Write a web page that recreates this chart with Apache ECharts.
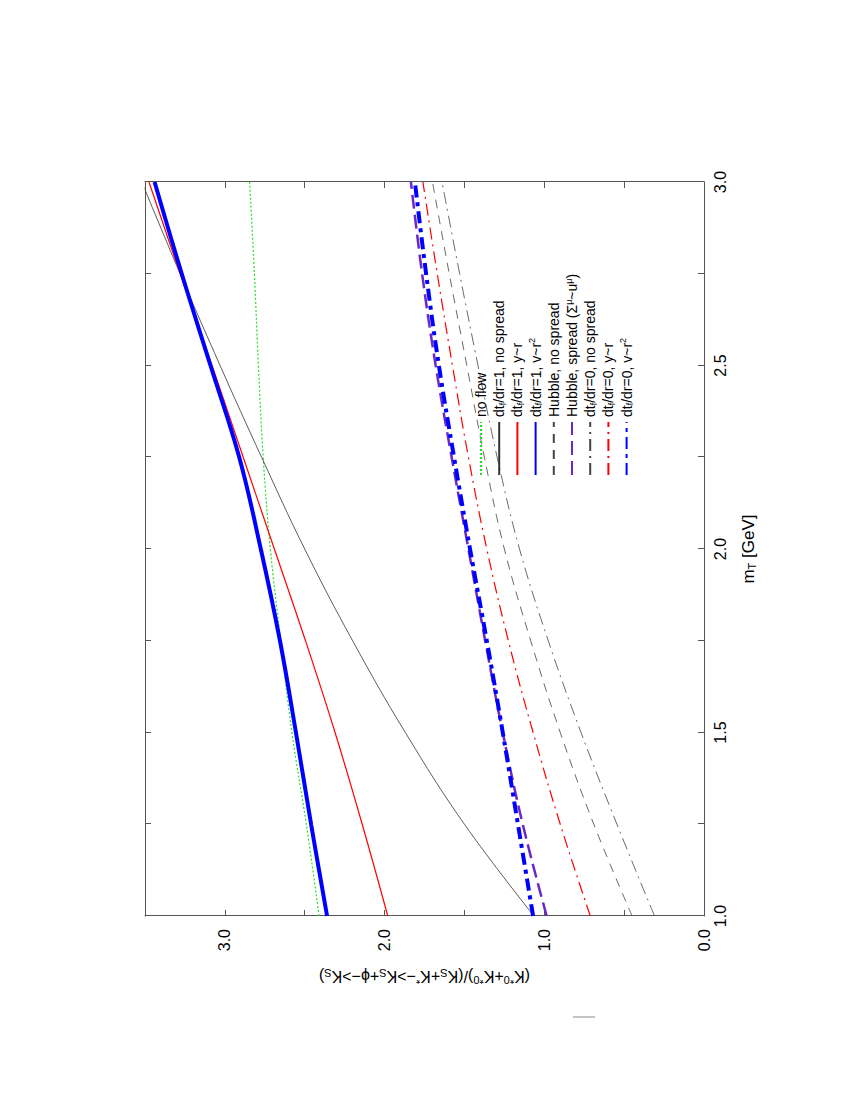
<!DOCTYPE html>
<html>
<head>
<meta charset="utf-8">
<script src="https://cdn.jsdelivr.net/npm/echarts@6/dist/echarts.min.js"></script>
<style>
  html, body { margin: 0; padding: 0; background: #fff; overflow: hidden; width: 850px; height: 1100px; }
  #chart { position: absolute; left: 0; top: 0; width: 1100px; height: 850px;
           transform-origin: 0 0; transform: translate(0px, 1100px) rotate(-90deg); }
</style>
</head>
<body>
<div id="chart"></div>
<script>
// m_T [GeV] sample points
const mT = [1.0, 1.25, 1.5, 1.75, 2.0, 2.25, 2.5, 2.75, 3.0];
// ratio values
const noFlow         = [2.41, 2.49, 2.58, 2.65, 2.715, 2.76, 2.79, 2.815, 2.845];
const dt1NoSpread    = [1.065, 1.50, 1.87, 2.20, 2.50, 2.77, 3.03, 3.28, 3.52];
const dt1Yr          = [1.98, 2.14, 2.31, 2.495, 2.69, 2.885, 3.08, 3.28, 3.475];
const dt1Vr2         = [2.36, 2.46, 2.555, 2.655, 2.775, 2.91, 3.09, 3.27, 3.44];
const hubbleNoSpread = [0.45, 0.69, 0.90, 1.085, 1.25, 1.375, 1.485, 1.595, 1.70];
const hubbleSpread   = [0.985, 1.135, 1.26, 1.37, 1.475, 1.58, 1.68, 1.765, 1.835];
const dt0NoSpread    = [0.31, 0.545, 0.77, 0.975, 1.155, 1.295, 1.415, 1.53, 1.64];
const dt0Yr          = [0.712, 0.90, 1.07, 1.225, 1.36, 1.475, 1.575, 1.67, 1.76];
const dt0Vr2         = [1.07, 1.165, 1.26, 1.36, 1.465, 1.565, 1.66, 1.74, 1.81];

const seriesNames = [
  'no flow', 'dtf/dr=1, no spread', 'dtf/dr=1, y~r', 'dtf/dr=1, v~r2',
  'Hubble, no spread', 'Hubble, spread', 'dtf/dr=0, no spread', 'dtf/dr=0, y~r', 'dtf/dr=0, v~r2'
];
const legendLabels = [
  'no flow',
  'dt{sub|f}/dr=1, no spread',
  'dt{sub|f}/dr=1, y~r',
  'dt{sub|f}/dr=1, v~r{sup|2}',
  'Hubble, no spread',
  'Hubble, spread (Σ{sup|μ}~u{sup|μ})',
  'dt{sub|f}/dr=0, no spread',
  'dt{sub|f}/dr=0, y~r',
  'dt{sub|f}/dr=0, v~r{sup|2}'
];
const seriesValues = [noFlow, dt1NoSpread, dt1Yr, dt1Vr2, hubbleNoSpread, hubbleSpread, dt0NoSpread, dt0Yr, dt0Vr2];
const seriesColors = ['#22e022', '#333333', '#ff0000', '#0000ff', '#444444', '#6a28c8', '#444444', '#ff0000', '#0000ff'];
const seriesWidths = [1.2, 0.8, 1.2, 4, 0.8, 2.5, 0.8, 1.2, 4];
const seriesDashes = [[2, 2], 'solid', 'solid', 'solid', [9, 7], [14, 6], [12, 5, 2, 5], [12, 5, 2, 5], [12, 5, 4, 5]];

const xTicks = { min: 1.0, max: 3.0, interval: 0.25 };
const yTicks = { min: 0, max: 3.5, interval: 0.5 };

const FONT = 'Liberation Sans, Arial, Helvetica, sans-serif';
const frameColor = '#555';

const chart = echarts.init(document.getElementById('chart'), null, { renderer: 'svg' });

function xFmt(v) { return Math.abs(v * 2 - Math.round(v * 2)) < 1e-9 ? v.toFixed(1) : ''; }
function yFmt(v) { return Math.abs(v - Math.round(v)) < 1e-9 ? v.toFixed(1) : ''; }

const axisCommon = {
  type: 'value',
  axisLine: { show: true, onZero: false, lineStyle: { color: frameColor, width: 1 } },
  axisTick: { show: true, inside: true, length: 6, lineStyle: { color: frameColor } },
  splitLine: { show: false }
};

const rich = {
  sub: { fontSize: 9, verticalAlign: 'bottom', lineHeight: 9, fontFamily: FONT, color: '#000' },
  sup: { fontSize: 9, verticalAlign: 'top', lineHeight: 9, fontFamily: FONT, color: '#000' }
};
const richBig = {
  sub: { fontSize: 11, verticalAlign: 'bottom', lineHeight: 11, fontFamily: FONT, color: '#000' },
  sup: { fontSize: 11, verticalAlign: 'top', lineHeight: 11, fontFamily: FONT, color: '#000' }
};

chart.setOption({
  backgroundColor: '#fff',
  animation: false,
  grid: { left: 184, right: 182, top: 145, bottom: 146, containLabel: false },
  legend: {
    orient: 'vertical',
    left: 619, top: 468,
    itemWidth: 53, itemHeight: 14, itemGap: 2.2,
    itemStyle: { opacity: 0 },
    data: seriesNames,
    formatter: name => legendLabels[seriesNames.indexOf(name)],
    textStyle: { fontSize: 14, fontFamily: FONT, color: '#000', lineHeight: 16, rich: rich }
  },
  xAxis: [
    Object.assign({}, axisCommon, {
      position: 'bottom', min: xTicks.min, max: xTicks.max, interval: xTicks.interval,
      axisLabel: { show: true, formatter: xFmt, fontSize: 16, fontFamily: FONT, color: '#000', margin: 8 },
      name: 'm{sub|T} [GeV]', nameLocation: 'middle', nameGap: 35,
      nameTextStyle: { fontSize: 17, fontFamily: FONT, color: '#000', lineHeight: 18, rich: richBig }
    }),
    Object.assign({}, axisCommon, {
      position: 'top', min: xTicks.min, max: xTicks.max, interval: xTicks.interval,
      axisLabel: { show: false }
    })
  ],
  yAxis: [
    Object.assign({}, axisCommon, {
      position: 'left', min: yTicks.min, max: yTicks.max, interval: yTicks.interval,
      axisLabel: { show: true, formatter: yFmt, fontSize: 16, fontFamily: FONT, color: '#000', margin: 13 },
      name: '(K{sup|*0}+K{sup|*0})/(K{sub|S}+K{sup|*}−>K{sub|S}+ϕ−>K{sub|S})',
      nameLocation: 'middle', nameGap: 51, nameRotate: 90,
      nameTextStyle: { fontSize: 16, fontFamily: FONT, color: '#000', lineHeight: 18, rich: richBig }
    }),
    Object.assign({}, axisCommon, {
      position: 'right', min: yTicks.min, max: yTicks.max, interval: yTicks.interval,
      axisLabel: { show: false }
    })
  ],
  graphic: [{
    type: 'line',
    shape: { x1: 83, y1: 573, x2: 83, y2: 595 },
    style: { stroke: '#888', lineWidth: 1 }
  }],
  series: seriesNames.map((name, i) => ({
    name: name,
    type: 'line',
    xAxisIndex: 0, yAxisIndex: 0,
    smooth: 0.4,
    symbol: 'none',
    clip: true,
    data: mT.map((m, k) => [m, seriesValues[i][k]]),
    lineStyle: { color: seriesColors[i], width: seriesWidths[i], type: seriesDashes[i] },
    itemStyle: { color: seriesColors[i] }
  }))
});
</script>
</body>
</html>
